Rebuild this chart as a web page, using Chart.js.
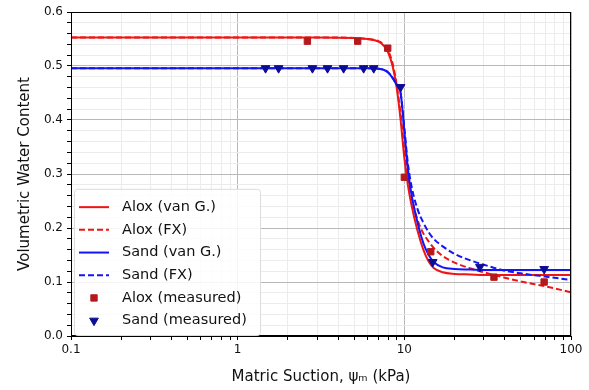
<!DOCTYPE html>
<html>
<head>
<meta charset="utf-8">
<script src="https://cdn.jsdelivr.net/npm/chart.js@4/dist/chart.umd.min.js"></script>
<style>
  html, body { margin: 0; padding: 0; background: #fff; }
  #wrap { width: 589px; height: 390px; }
</style>
</head>
<body>
<div id="wrap"><canvas id="swrc"></canvas></div>
<script>
'use strict';

// suction values (kPa) at which the fitted curves are sampled
const psiFit = [0.1, 1, 3, 5, 6, 7, 7.5, 8, 8.5, 9, 9.5, 10, 10.5, 11, 12, 13, 14, 15, 17, 20, 25, 30, 40, 50, 70, 100];

const aloxVanG = [0.553, 0.553, 0.553, 0.552, 0.550, 0.545, 0.538, 0.525, 0.500, 0.460, 0.400, 0.330, 0.280, 0.245, 0.195, 0.160, 0.138, 0.126, 0.118, 0.115, 0.114, 0.113, 0.113, 0.113, 0.113, 0.113];
const aloxFX   = [0.553, 0.553, 0.553, 0.552, 0.550, 0.546, 0.540, 0.528, 0.505, 0.465, 0.410, 0.345, 0.295, 0.260, 0.215, 0.190, 0.175, 0.163, 0.148, 0.136, 0.125, 0.118, 0.108, 0.101, 0.092, 0.081];
const sandVanG = [0.496, 0.496, 0.496, 0.496, 0.496, 0.495, 0.493, 0.488, 0.478, 0.465, 0.450, 0.380, 0.310, 0.265, 0.210, 0.172, 0.150, 0.137, 0.127, 0.124, 0.123, 0.122, 0.122, 0.122, 0.122, 0.122];
const sandFX   = [0.496, 0.496, 0.496, 0.496, 0.496, 0.495, 0.493, 0.488, 0.478, 0.465, 0.450, 0.385, 0.320, 0.280, 0.235, 0.210, 0.192, 0.180, 0.166, 0.152, 0.140, 0.132, 0.121, 0.116, 0.110, 0.104];

// lab measurements
const aloxPsi   = [2.62, 5.25, 7.95, 10.0, 14.4, 34.5, 69];
const aloxTheta = [0.546, 0.546, 0.533, 0.294, 0.156, 0.109, 0.100];
const sandPsi   = [1.47, 1.76, 2.81, 3.46, 4.32, 5.70, 6.55, 9.5, 14.8, 28.4, 69];
const sandTheta = [0.496, 0.496, 0.496, 0.496, 0.496, 0.496, 0.496, 0.461, 0.137, 0.128, 0.124];

const xMajorTicks = [0.1, 1, 10, 100];
const xTickLabels = ['0.1', '1', '10', '100'];

const FONT = 'DejaVu Sans';
const RED = '#f01414';
const BLUE = '#1414f5';

const pts = (xs, ys) => xs.map((x, i) => ({ x, y: ys[i] }));
const isMajorX = v => xMajorTicks.some(m => Math.abs(m - v) < 1e-9);

function fitLine(label, data, color, dashed, order) {
  return {
    label,
    data: pts(psiFit, data),
    borderColor: color,
    backgroundColor: color,
    borderWidth: 2,
    borderDash: dashed ? [6, 3] : [],
    pointRadius: 0,
    cubicInterpolationMode: 'monotone',
    showLine: true,
    order
  };
}

// legend box drawn inside the plot, lower left
const insideLegend = {
  id: 'insideLegend',
  afterDraw(chart) {
    const { ctx, chartArea } = chart;
    const sets = chart.data.datasets;
    const x0 = chartArea.left + 3;
    const rowH = 22.7;
    const h = rowH * sets.length + 10;
    const y0 = chartArea.bottom - 1 - h;
    const w = 186;

    ctx.save();
    ctx.fillStyle = 'rgba(255,255,255,0.85)';
    ctx.strokeStyle = '#dcdcdc';
    ctx.lineWidth = 1;
    ctx.beginPath();
    ctx.roundRect(x0 + 0.5, y0 + 0.5, w, h, 3);
    ctx.fill();
    ctx.stroke();

    ctx.font = `14.5px "${FONT}"`;
    ctx.textBaseline = 'middle';
    sets.forEach((ds, i) => {
      const cy = y0 + 7 + rowH * (i + 0.5);
      const sx = x0 + 5, ex = x0 + 35, mx = (sx + ex) / 2;
      if (ds.pointRadius === 0) {
        ctx.strokeStyle = ds.borderColor;
        ctx.lineWidth = ds.borderWidth;
        ctx.setLineDash(ds.borderDash);
        ctx.beginPath();
        ctx.moveTo(sx, cy);
        ctx.lineTo(ex, cy);
        ctx.stroke();
        ctx.setLineDash([]);
      } else {
        ctx.fillStyle = ds.backgroundColor;
        ctx.strokeStyle = ds.borderColor;
        ctx.lineWidth = 1;
        Chart.helpers.drawPoint(ctx, {
          pointStyle: ds.pointStyle,
          rotation: ds.rotation || 0,
          radius: ds.pointRadius,
          borderWidth: 1
        }, mx, cy);
      }
      ctx.fillStyle = '#111';
      ctx.fillText(ds.label, x0 + 48, cy);
    });
    ctx.restore();
  }
};

// black frame around the plotting area
const frame = {
  id: 'frame',
  afterDatasetsDraw(chart) {
    const { ctx, chartArea: a } = chart;
    ctx.save();
    ctx.strokeStyle = '#000';
    ctx.lineWidth = 1;
    ctx.strokeRect(Math.round(a.left) + 0.5, Math.round(a.top) + 0.5,
                   Math.round(a.right - a.left) - 1, Math.round(a.bottom - a.top) - 1);
    ctx.restore();
  }
};

new Chart(document.getElementById('swrc'), {
  type: 'scatter',
  data: {
    datasets: [
      fitLine('Alox (van G.)', aloxVanG, RED, false, 3),
      fitLine('Alox (FX)', aloxFX, RED, true, 3),
      fitLine('Sand (van G.)', sandVanG, BLUE, false, 2),
      fitLine('Sand (FX)', sandFX, BLUE, true, 2),
      {
        label: 'Alox (measured)',
        data: pts(aloxPsi, aloxTheta),
        pointStyle: 'rect',
        pointRadius: 4.5,
        backgroundColor: '#b5191c',
        borderColor: '#b5191c',
        borderWidth: 1,
        order: 1
      },
      {
        label: 'Sand (measured)',
        data: pts(sandPsi, sandTheta),
        pointStyle: 'triangle',
        rotation: 180,
        pointRadius: 5,
        backgroundColor: '#0c0c96',
        borderColor: '#0c0c96',
        borderWidth: 1,
        order: 0
      }
    ]
  },
  options: {
    responsive: true,
    maintainAspectRatio: false,
    animation: false,
    layout: { padding: { top: 12, right: 18, left: 0, bottom: 0 } },
    plugins: {
      legend: { display: false },
      tooltip: { enabled: false }
    },
    scales: {
      x: {
        type: 'logarithmic',
        min: 0.1,
        max: 100,
        afterBuildTicks(scale) {
          const ticks = [];
          for (let e = -1; e < 2; e++) {
            for (let s = 1; s < 10; s++) {
              ticks.push({ value: +(s * Math.pow(10, e)).toPrecision(3) });
            }
          }
          ticks.push({ value: 100 });
          scale.ticks = ticks;
        },
        afterFit(scale) { scale.height = 54; },
        ticks: {
          autoSkip: false,
          maxRotation: 0,
          padding: 3,
          color: '#111',
          font: { family: FONT, size: 12 },
          callback(v) {
            const i = xMajorTicks.findIndex(m => Math.abs(m - v) < 1e-9);
            return i >= 0 ? xTickLabels[i] : '';
          }
        },
        grid: {
          color: c => (c.tick && isMajorX(c.tick.value)) ? '#b8b8b8' : '#ececec',
          tickColor: '#000',
          tickLength: 4
        },
        border: { color: '#000', width: 1 },
        title: {
          display: true,
          text: 'Matric Suction, ψₘ (kPa)',
          color: '#111',
          font: { family: FONT, size: 15 },
          padding: { top: 0, bottom: 4 }
        }
      },
      y: {
        min: 0,
        max: 0.6,
        afterFit(scale) { scale.width = 71; },
        ticks: {
          stepSize: 0.02,
          autoSkip: false,
          padding: 4,
          color: '#111',
          font: { family: FONT, size: 12 },
          callback(v) {
            const t = v * 10;
            return Math.abs(t - Math.round(t)) < 1e-6 ? (Math.round(t) / 10).toFixed(1) : '';
          }
        },
        grid: {
          color: c => {
            const t = c.tick ? c.tick.value * 10 : 0.5;
            return Math.abs(t - Math.round(t)) < 1e-6 ? '#b8b8b8' : '#ececec';
          },
          tickColor: '#000',
          tickLength: 4
        },
        border: { color: '#000', width: 1 },
        title: {
          display: true,
          text: 'Volumetric Water Content',
          color: '#111',
          font: { family: FONT, size: 15 },
          padding: { top: 16, bottom: 0 }
        }
      }
    }
  },
  plugins: [frame, insideLegend]
});
</script>
</body>
</html>
